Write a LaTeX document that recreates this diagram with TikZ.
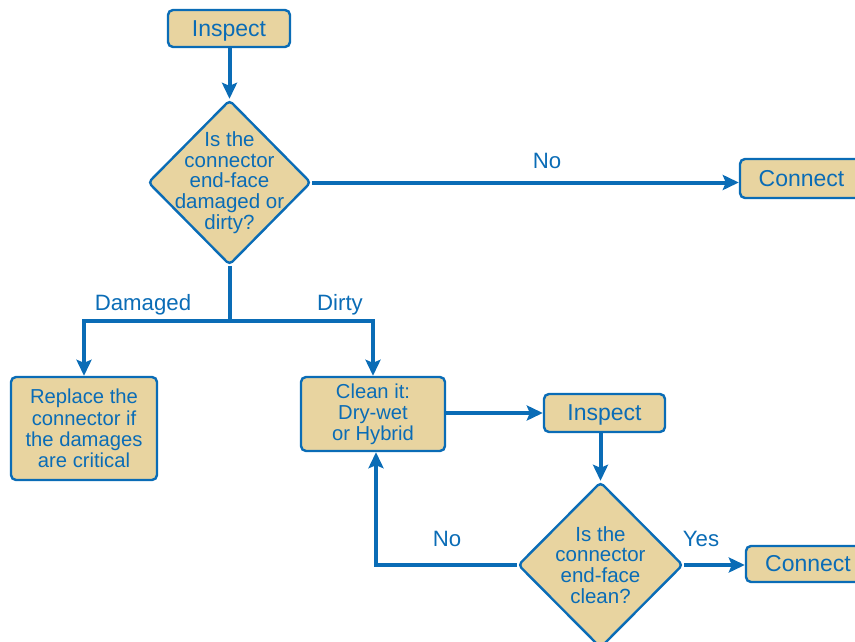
\documentclass[tikz,border=0pt]{standalone}
\usepackage{fontspec}
\setmainfont{Liberation Sans}
\usetikzlibrary{shapes.geometric,arrows.meta}
\definecolor{fblue}{RGB}{10,108,182}
\definecolor{ftan}{RGB}{232,212,160}
\tikzset{
  x=1pt, y=1pt,
  box/.style={draw=fblue, line width=2.4pt, fill=ftan, rounded corners=5pt, inner sep=0pt, text=fblue, align=center},
  onebox/.style={box, font=\fontsize{23}{25}\selectfont, text height=15.5pt, text depth=0pt},
  multibox/.style={box, font=\fontsize{20.2}{21.2}\selectfont},
  dia/.style={draw=fblue, line width=2.4pt, fill=ftan, diamond, rounded corners=4pt, inner sep=0pt},
  diatext/.style={text=fblue, align=center, font=\fontsize{20.5}{20.7}\selectfont, inner sep=0pt},
  lbl/.style={text=fblue, font=\fontsize{22.2}{24}\selectfont, inner sep=0pt},
  conn/.style={draw=fblue, line width=4pt},
  arr/.style={conn, -{Stealth[length=16pt, width=15pt, inset=3pt]}},
}
\begin{document}
\begin{tikzpicture}
\useasboundingbox (0,0) rectangle (855,-642);
% nodes
\node[onebox, minimum width=122, minimum height=37] (ins1) at (229,-28.5) {Inspect};
\node[dia, minimum width=163, minimum height=165,
  label={[diatext]center:{Is the\\connector\\end-face\\damaged or\\dirty?}}] (d1) at (229.5,-182.5) {};
\node[onebox, minimum width=123, minimum height=39] (con1) at (801.5,-178.5) {Connect};
\node[multibox, minimum width=146, minimum height=103] (rep) at (84,-428.5) {Replace the\\connector if\\the damages\\are critical};
\node[multibox, minimum width=144, minimum height=74] (cln) at (373,-414) {Clean it:\\Dry-wet\\or Hybrid};
\node[onebox, minimum width=121, minimum height=38] (ins2) at (604.5,-413) {Inspect};
\node[dia, minimum width=165, minimum height=166,
  label={[diatext]center:{Is the\\connector\\end-face\\clean?}}] (d2) at (600.5,-565) {};
\node[onebox, minimum width=124, minimum height=36] (con2) at (808,-564) {Connect};
\coordinate (j) at (229.5,-321);
% connectors
\draw[arr] (ins1.south -| d1.north) -- (d1.north);
\draw[arr] (d1.east) -- (d1.east -| con1.west);
\draw[conn] (d1.south) -- (j);
\draw[arr] (j) -| (rep.north);
\draw[arr] (j) -| (cln.north);
\draw[arr] (cln.east |- ins2.west) -- (ins2.west);
\draw[arr] (d2.north |- ins2.south) -- (d2.north);
\draw[arr] (d2.east) -- (d2.east -| con2.west);
\draw[arr] (d2.west) -| ([xshift=3pt]cln.south);
% labels
\node[lbl] at (547,-161) {No};
\node[lbl] at (143,-305) {Damaged};
\node[lbl] at (340,-305) {Dirty};
\node[lbl] at (447,-539) {No};
\node[lbl] at (701,-539) {Yes};
\end{tikzpicture}
\end{document}
